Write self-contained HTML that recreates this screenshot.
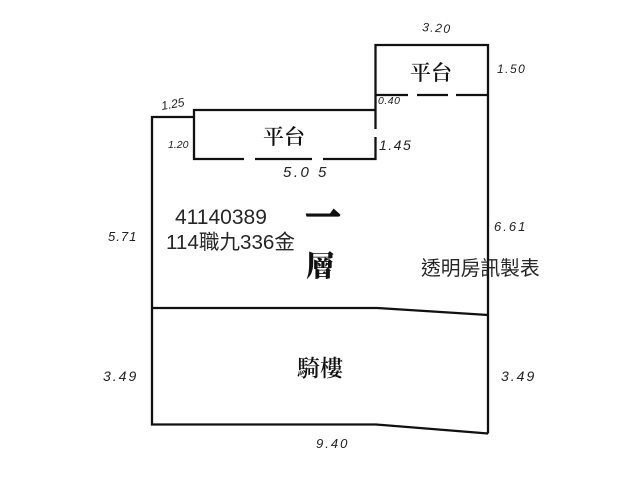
<!DOCTYPE html>
<html lang="zh-Hant">
<head>
<meta charset="utf-8">
<style>
html,body{margin:0;padding:0;background:#fff;width:640px;height:480px;overflow:hidden}
svg{display:block;filter:blur(.35px)}
.h{font-family:"Liberation Sans",sans-serif;font-style:italic;fill:#222}
.l{font-family:"Noto Serif CJK SC","Noto Sans CJK TC",serif;fill:#111}
.t{font-family:"Liberation Sans","Noto Sans CJK TC",sans-serif;fill:#262626}
</style>
</head>
<body>
<svg width="640" height="480" viewBox="0 0 640 480" xmlns="http://www.w3.org/2000/svg">
<g fill="none" stroke="#111" stroke-width="2.300">
<path d="M375.500 129V45H488V433.500"/>
<path d="M375.500 137V159H323M312 159H255M244 159H194V110H375.500"/>
<path d="M194 117H152V424.500H376L488 433.500"/>
<path d="M152 308H377L488 315"/>
<path d="M375 95H408M417 95H448M456 95H488"/>
</g>
<text class="l" x="410" y="80" font-size="21" font-weight="600">平台</text>
<text class="l" x="263" y="144" font-size="21" font-weight="600">平台</text>
<text class="l" x="306" y="229" font-size="34" font-weight="900" stroke="#111" stroke-width="2">一</text>
<text class="l" x="306" y="276" font-size="29" font-weight="900">層</text>
<text class="l" x="297" y="376" font-size="23" font-weight="600">騎樓</text>
<text class="t" x="175" y="224" font-size="21">41140389</text>
<text class="t" x="166" y="249" font-size="20.600">114職九336金</text>
<text class="t" x="421" y="275" font-size="19.800">透明房訊製表</text>
<text class="h" x="422" y="31" font-size="12" letter-spacing="1.500" transform="rotate(4 422 31)">3.20</text>
<text class="h" x="497" y="73" font-size="12" letter-spacing="1.500">1.50</text>
<text class="h" x="378" y="104" font-size="10.500" letter-spacing=".5">0.40</text>
<text class="h" x="162" y="110" font-size="12" transform="rotate(-10 162 110)">1.25</text>
<text class="h" x="168" y="148" font-size="10.500">1.20</text>
<text class="h" x="379" y="150" font-size="14" letter-spacing="1.500">1.45</text>
<text class="h" x="283" y="177" font-size="15" letter-spacing="2.500">5.0 5</text>
<text class="h" x="108" y="241" font-size="13" letter-spacing="1">5.71</text>
<text class="h" x="494" y="231" font-size="13" letter-spacing="2">6.61</text>
<text class="h" x="103" y="381" font-size="14" letter-spacing="2">3.49</text>
<text class="h" x="501" y="381" font-size="14" letter-spacing="2">3.49</text>
<text class="h" x="316" y="448" font-size="13" letter-spacing="2">9.40</text>
</svg>
</body>
</html>
